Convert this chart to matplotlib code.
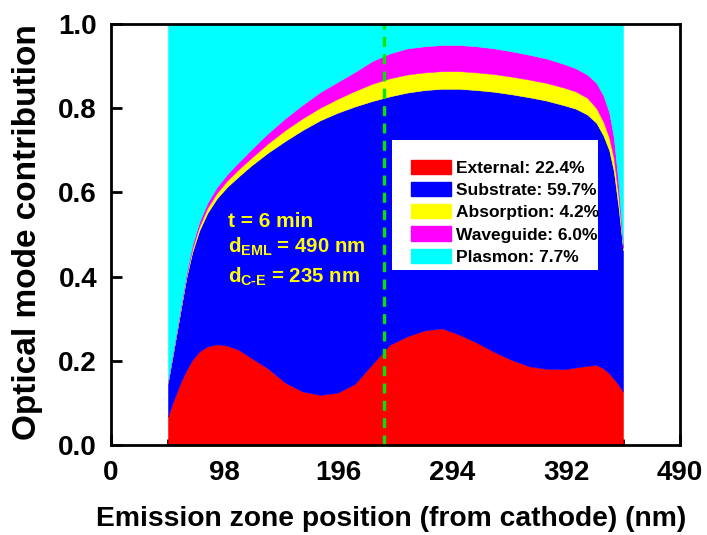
import matplotlib
matplotlib.use("Agg")
import matplotlib.pyplot as plt
from matplotlib.patches import Patch, Rectangle
import numpy as np

plt.rcParams['font.family'] = ['Liberation Sans', 'DejaVu Sans']
plt.rcParams['font.weight'] = 'bold'
plt.rcParams['mathtext.fontset'] = 'custom'
plt.rcParams['mathtext.rm'] = 'Liberation Sans:bold'
plt.rcParams['mathtext.bf'] = 'Liberation Sans:bold'
plt.rcParams['mathtext.it'] = 'Liberation Sans:bold'

# Emission zone position (nm from cathode)
position = [49, 53, 57, 61, 65, 70, 76, 83, 91, 100, 110, 120, 135, 150, 165,
            180, 195, 210, 225, 240, 255, 270, 285, 300, 315, 330, 345, 360,
            375, 390, 400, 410, 418, 424, 429, 433, 437, 441]

# Fraction of emitted power coupled into each optical mode
external = [0.067, 0.100, 0.128, 0.155, 0.178, 0.202, 0.222, 0.234, 0.239, 0.236,
            0.226, 0.208, 0.182, 0.148, 0.127, 0.119, 0.124, 0.145, 0.192, 0.238,
            0.258, 0.272, 0.277, 0.262, 0.243, 0.221, 0.202, 0.187, 0.181, 0.180,
            0.184, 0.188, 0.190, 0.182, 0.170, 0.157, 0.143, 0.127]
substrate = [0.081, 0.110, 0.145, 0.181, 0.220, 0.256, 0.287, 0.317, 0.346, 0.377,
             0.412, 0.454, 0.512, 0.574, 0.621, 0.652, 0.665, 0.659, 0.625, 0.590,
             0.579, 0.571, 0.569, 0.584, 0.600, 0.618, 0.631, 0.639, 0.637, 0.627,
             0.615, 0.597, 0.575, 0.553, 0.530, 0.493, 0.422, 0.336]
absorption = [0.002, 0.002, 0.003, 0.004, 0.005, 0.008, 0.010, 0.012, 0.013, 0.015,
              0.017, 0.018, 0.022, 0.026, 0.028, 0.030, 0.033, 0.037, 0.041, 0.043,
              0.043, 0.042, 0.042, 0.042, 0.042, 0.042, 0.042, 0.042, 0.042, 0.042,
              0.041, 0.040, 0.035, 0.033, 0.030, 0.030, 0.025, 0.005]
waveguide = [0.002, 0.003, 0.004, 0.005, 0.007, 0.009, 0.011, 0.012, 0.014, 0.015,
             0.017, 0.020, 0.024, 0.028, 0.032, 0.037, 0.040, 0.045, 0.054, 0.059,
             0.062, 0.062, 0.062, 0.062, 0.062, 0.061, 0.060, 0.059, 0.058, 0.056,
             0.055, 0.055, 0.060, 0.062, 0.060, 0.050, 0.030, 0.007]
plasmon = [0.848, 0.785, 0.720, 0.655, 0.590, 0.525, 0.470, 0.425, 0.388, 0.357,
           0.328, 0.300, 0.260, 0.224, 0.192, 0.162, 0.138, 0.114, 0.088, 0.070,
           0.058, 0.053, 0.050, 0.050, 0.053, 0.058, 0.065, 0.073, 0.082, 0.095,
           0.105, 0.120, 0.140, 0.170, 0.210, 0.270, 0.380, 0.525]

mode_names = ["External", "Substrate", "Absorption", "Waveguide", "Plasmon"]
mode_share = ["22.4%", "59.7%", "4.2%", "6.0%", "7.7%"]
mode_colors = ["#FF0000", "#0000FF", "#FFFF00", "#FF00FF", "#00FFFF"]

xticks = [0, 98, 196, 294, 392, 490]
yticks = [0.0, 0.2, 0.4, 0.6, 0.8, 1.0]
cathode_emitter_distance = 235

W, H = 707, 535
fig = plt.figure(figsize=(W / 100, H / 100), dpi=100)
ax = fig.add_axes([111 / W, 1 - 445 / H, 569 / W, 421 / H])

layers = [external, substrate, absorption, waveguide, plasmon]
base = np.zeros(len(position))
for vals, col in zip(layers, mode_colors):
    top = base + np.asarray(vals)
    ax.fill_between(position, base, top, facecolor=col, edgecolor=col,
                    linewidth=0.3, zorder=2)
    base = top

ax.axvline(cathode_emitter_distance, color="#00E600", lw=2.4,
           dashes=(3.0, 2.2), zorder=4)

ax.set_xlim(0, 490)
ax.set_ylim(0, 1.0)
ax.set_xticks(xticks)
ax.set_xticklabels([str(t) for t in xticks])
ax.set_xticks([49, 147, 245, 343, 441], minor=True)
ax.set_yticks(yticks)
ax.set_yticklabels([f"{t:.1f}" for t in yticks])

ax.tick_params(axis="both", which="major", direction="in", length=8, width=2,
               labelsize=20)
ax.tick_params(axis="x", which="major", pad=11)
ax.tick_params(axis="y", which="major", pad=10)
ax.tick_params(axis="x", which="minor", direction="in", length=4, width=2)
for s in ax.spines.values():
    s.set_linewidth(2)
    s.set_zorder(5)

fig.text(391.5 / W, 1 - 519 / H, "Emission zone position (from cathode) (nm)",
         fontsize=20.3, fontweight="bold", ha="center", va="center")
fig.text(28 / W, 1 - 232 / H, "Optical mode contribution", fontsize=24,
         fontweight="bold", ha="center", va="center", rotation=90)

# white panel behind the legend entries
ax.add_patch(Rectangle(((392 - 111) / 569, (445 - 270) / 421),
                       (598 - 392) / 569, (270 - 140) / 421,
                       transform=ax.transAxes, facecolor="white",
                       edgecolor="none", zorder=5.5))
handles = [Patch(facecolor=c, edgecolor=c) for c in mode_colors]
labels = [f"{n}: {p}" for n, p in zip(mode_names, mode_share)]
leg = ax.legend(handles, labels, loc="upper left",
                bbox_to_anchor=((411 - 111) / 569, (445 - 159.5) / 421),
                frameon=False, fontsize=12.5,
                handlelength=2.3, handleheight=0.9, handletextpad=0.32,
                labelspacing=0.35, borderpad=0, borderaxespad=0)
leg.set_zorder(6)

tx = (228 - 111) / 569
ax.text(tx, (445 - 227) / 421, "t = 6 min", transform=ax.transAxes,
        color="#FFFF00", fontsize=15, fontweight="bold", va="baseline", zorder=6)
ax.text(tx, (445 - 253) / 421, r"d$_{\mathrm{EML}}$ = 490 nm",
        transform=ax.transAxes, color="#FFFF00", fontsize=14.7,
        fontweight="bold", va="baseline", zorder=6)
ax.text(tx, (445 - 283) / 421, r"d$_{\mathrm{C\text{-}E}}$ = 235 nm",
        transform=ax.transAxes, color="#FFFF00", fontsize=14.7,
        fontweight="bold", va="baseline", zorder=6)

fig.savefig("out.png", dpi=100)
